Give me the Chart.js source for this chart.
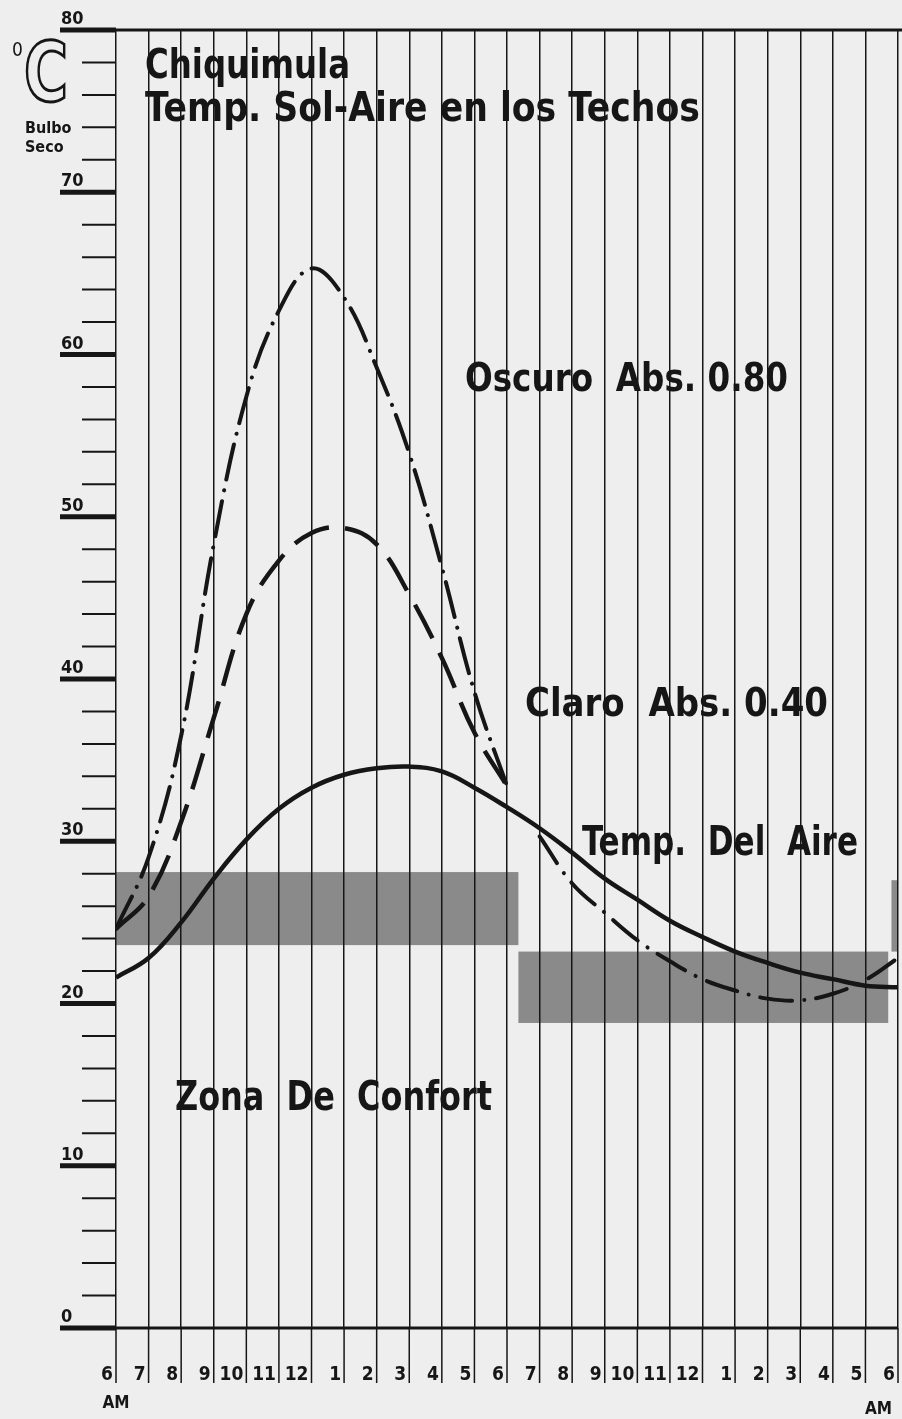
<!DOCTYPE html>
<html>
<head>
<meta charset="utf-8">
<script src="https://cdn.jsdelivr.net/npm/chart.js@4"></script>
<style>
  html, body { margin: 0; padding: 0; background: #eeeeee; }
  canvas { display: block; }
</style>
</head>
<body>
<canvas id="solAire" width="902" height="1419"></canvas>
<script>
// Horas de 6 AM a 6 AM del dia siguiente.
var horas = ['6', '7', '8', '9', '10', '11', '12', '1', '2', '3', '4', '5', '6',
             '7', '8', '9', '10', '11', '12', '1', '2', '3', '4', '5', '6'];

// Temperatura del aire (bulbo seco), una lectura por hora.
var tempAire = [21.6, 22.8, 25.0, 27.7, 30.1, 32.0, 33.3, 34.1, 34.5, 34.6, 34.3, 33.3, 32.1,
                30.8, 29.3, 27.7, 26.4, 25.1, 24.1, 23.2, 22.5, 21.9, 21.5, 21.1, 21.0];

// Techo oscuro, absorcion 0.80 (6 AM a 6 PM).
var techoOscuro = [24.6, 29.0, 36.5, 48.3, 57.4, 62.7, 65.3, 63.5, 59.2, 53.9, 46.9, 39.2, 33.4];

// Techo claro, absorcion 0.40 (6 AM a 6 PM).
var techoClaro = [24.6, 26.6, 31.2, 37.6, 44.0, 47.3, 49.0, 49.3, 48.3, 45.2, 41.3, 36.7, 33.4];

// De noche los dos techos siguen la misma curva (7 PM a 6 AM).
var techosNoche = [30.3, 27.4, 25.6, 23.9, 22.6, 21.5, 20.8, 20.3, 20.2, 20.6, 21.45, 22.8];
var inicioNoche = 13;

// Zona de confort: desde / hasta (horas desde las 6 AM), minimo / maximo en grados.
var zonaDesde = [0, 12.35, 23.8];
var zonaHasta = [12.35, 23.7, 24];
var zonaMin = [23.6, 18.8, 23.2];
var zonaMax = [28.1, 23.2, 27.6];

var etiquetasY = [0, 10, 20, 30, 40, 50, 60, 70, 80];

var tinta = '#161616';
var papel = '#eeeeee';
var fuente = "'Liberation Sans Narrow', 'DejaVu Sans Condensed', 'Liberation Sans', sans-serif";

function puntos(valores, desde) {
    return valores.map(function (v, i) { return { x: i + desde, y: v }; });
}

// Texto en negrita comprimido al ancho que tiene en el original.
function textoAjustado(ctx, texto, x, base, ancho, tam) {
    ctx.font = 'bold ' + tam + 'px ' + fuente;
    var w = ctx.measureText(texto).width;
    ctx.save();
    ctx.translate(x, base);
    ctx.scale(ancho / w, 1);
    ctx.fillText(texto, 0, 0);
    ctx.restore();
}

////////////////////////////////////////////////////////////////////////////////
// Fondo y zona de confort (debajo de la cuadricula).

var fondoYZonas = {
    id: 'fondoYZonas',
    beforeDraw: function (chart) {
        var ctx = chart.ctx, xs = chart.scales.x, ys = chart.scales.y;
        ctx.save();
        ctx.fillStyle = papel;
        ctx.fillRect(0, 0, chart.width, chart.height);
        ctx.fillStyle = '#8a8a8a';
        for (var i = 0; i < zonaDesde.length; i++) {
            var x1 = xs.getPixelForValue(zonaDesde[i]);
            var x2 = xs.getPixelForValue(zonaHasta[i]);
            var y1 = ys.getPixelForValue(zonaMax[i]);
            var y2 = ys.getPixelForValue(zonaMin[i]);
            ctx.fillRect(x1, y1, x2 - x1, y2 - y1);
        }
        ctx.restore();
    }
};

////////////////////////////////////////////////////////////////////////////////
// Ejes, marcas y textos.

var ejesYTextos = {
    id: 'ejesYTextos',
    afterDraw: function (chart) {
        var ctx = chart.ctx, xs = chart.scales.x, ys = chart.scales.y;
        var x0 = xs.getPixelForValue(0);
        var xFin = xs.getPixelForValue(24);
        var yCero = ys.getPixelForValue(0);
        var yTope = ys.getPixelForValue(80);
        ctx.save();
        ctx.strokeStyle = tinta;
        ctx.fillStyle = tinta;
        ctx.lineCap = 'butt';

        // Lineas de 80 y de 0.
        ctx.lineWidth = 3;
        ctx.beginPath();
        ctx.moveTo(x0, yTope); ctx.lineTo(chart.width, yTope);
        ctx.moveTo(x0, yCero); ctx.lineTo(xFin, yCero);
        ctx.stroke();

        // Marcas del eje Y cada 2 grados, gruesas cada 10.
        for (var v = 0; v <= 80; v += 2) {
            var y = ys.getPixelForValue(v);
            ctx.beginPath();
            if (v % 10 === 0) {
                ctx.lineWidth = 5;
                ctx.moveTo(x0 - 56, y);
            } else {
                ctx.lineWidth = 2;
                ctx.moveTo(x0 - 34, y);
            }
            ctx.lineTo(x0, y);
            ctx.stroke();
        }
        ctx.font = 'bold 18px ' + fuente;
        ctx.textAlign = 'left';
        ctx.textBaseline = 'alphabetic';
        etiquetasY.forEach(function (val) {
            ctx.fillText(String(val), x0 - 55, ys.getPixelForValue(val) - 6);
        });

        // Marcas y horas bajo el eje X.
        ctx.lineWidth = 1.5;
        ctx.font = 'bold 19px ' + fuente;
        ctx.textAlign = 'right';
        horas.forEach(function (h, i) {
            var x = xs.getPixelForValue(i);
            ctx.beginPath();
            ctx.moveTo(x, yCero);
            ctx.lineTo(x, yCero + 55);
            ctx.stroke();
            ctx.fillText(h, x - 3, yCero + 52);
        });
        ctx.font = 'bold 17px ' + fuente;
        ctx.textAlign = 'center';
        ctx.fillText('AM', x0, yCero + 80);
        ctx.textAlign = 'right';
        ctx.fillText('AM', xFin - 6, yCero + 86);

        // Unidad: grados C, bulbo seco.
        ctx.textAlign = 'left';
        ctx.font = '19px ' + fuente;
        ctx.fillText('0', 12, 56);
        ctx.save();
        ctx.font = 'bold 82px ' + fuente;
        var wc = ctx.measureText('C').width;
        ctx.translate(24, 101);
        ctx.scale(44 / wc, 1);
        ctx.lineWidth = 3;
        ctx.strokeText('C', 0, 0);
        ctx.restore();
        ctx.font = 'bold 16px ' + fuente;
        ctx.fillText('Bulbo', 25, 133);
        ctx.fillText('Seco', 25, 152);

        // Titulo y rotulos de las curvas.
        ctx.textAlign = 'left';
        textoAjustado(ctx, 'Chiquimula', 145, 78, 205, 40);
        textoAjustado(ctx, 'Temp. Sol-Aire en los Techos', 145, 121, 555, 40);
        textoAjustado(ctx, 'Oscuro  Abs. 0.80', 465, 391, 323, 39);
        textoAjustado(ctx, 'Claro  Abs. 0.40', 525, 716, 303, 39);
        textoAjustado(ctx, 'Temp.  Del  Aire', 582, 855, 276, 40);
        textoAjustado(ctx, 'Zona  De  Confort', 175, 1110, 317, 40);
        ctx.restore();
    }
};

////////////////////////////////////////////////////////////////////////////////
// Grafica.

var ctx = document.getElementById('solAire').getContext('2d');
var grafica = new Chart(ctx, {
    type: 'line',
    data: {
        datasets: [{
            label: 'Oscuro Abs. 0.80',
            data: puntos(techoOscuro, 0),
            borderColor: tinta,
            borderWidth: 4,
            borderDash: [36, 11, 0.1, 11],
            borderCapStyle: 'round',
            tension: 0.4,
            pointRadius: 0
        },
        {
            label: 'Claro Abs. 0.40',
            data: puntos(techoClaro, 0),
            borderColor: tinta,
            borderWidth: 4.5,
            borderDash: [38, 16],
            tension: 0.4,
            pointRadius: 0
        },
        {
            label: 'Techos de noche',
            data: puntos(techosNoche, inicioNoche),
            borderColor: tinta,
            borderWidth: 4,
            borderDash: [32, 12, 0.1, 12],
            borderCapStyle: 'round',
            tension: 0.4,
            pointRadius: 0
        },
        {
            label: 'Temp. Del Aire',
            data: puntos(tempAire, 0),
            borderColor: tinta,
            borderWidth: 4.5,
            tension: 0.4,
            pointRadius: 0
        }]
    },
    options: {
        responsive: false,
        animation: false,
        devicePixelRatio: 1,
        layout: {
            padding: { left: 116, right: 4, top: 30, bottom: 91 }
        },
        plugins: {
            legend: { display: false },
            tooltip: { enabled: false }
        },
        scales: {
            x: {
                type: 'linear',
                min: 0,
                max: 24,
                border: { display: false },
                grid: {
                    color: tinta,
                    lineWidth: 1.5,
                    drawTicks: false
                },
                ticks: { display: false, stepSize: 1, maxTicksLimit: 100 }
            },
            y: {
                min: 0,
                max: 80,
                border: { display: false },
                grid: { display: false, drawTicks: false },
                ticks: { display: false, stepSize: 2 }
            }
        }
    },
    plugins: [fondoYZonas, ejesYTextos]
});
</script>
</body>
</html>
